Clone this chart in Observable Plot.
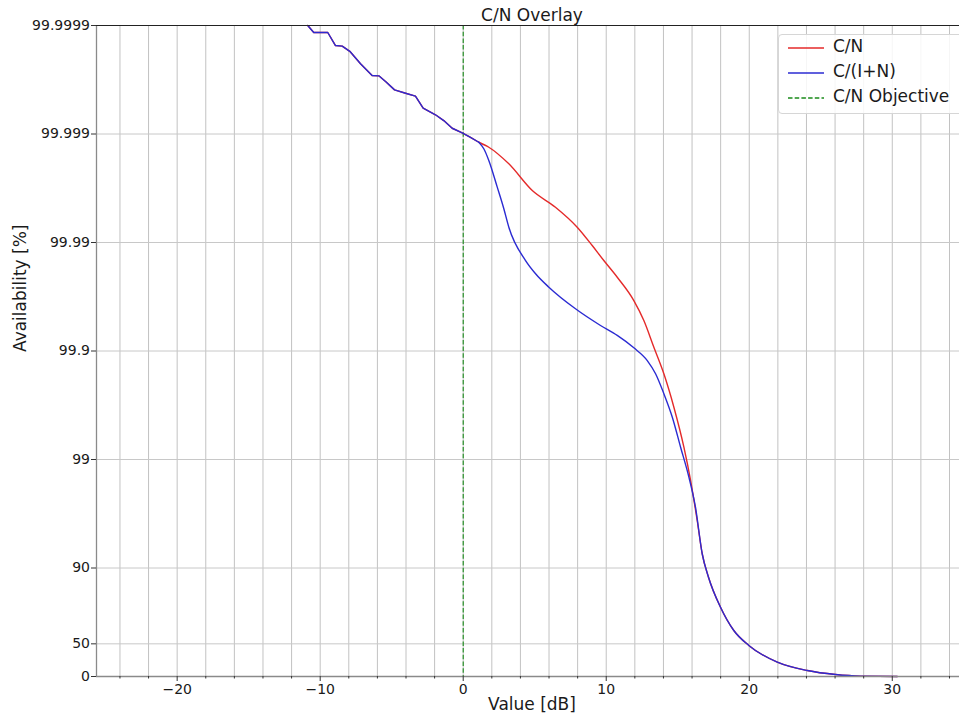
<!DOCTYPE html>
<html>
<head>
<meta charset="utf-8">
<script src="https://cdn.jsdelivr.net/npm/d3@7"></script>
<script src="https://cdn.jsdelivr.net/npm/@observablehq/plot@0.6"></script>
<style>
html, body { margin: 0; padding: 0; background: #fff; overflow: hidden; }
#wrap { position: relative; width: 959px; height: 719px; font-family: "DejaVu Sans", sans-serif; }
#legend { position: absolute; left: 778px; top: 34px; width: 200px; height: 80px;
  border: 1px solid #d6d6d6; border-radius: 4px; background: rgba(255,255,255,0.85); box-sizing: border-box; }
.item { position: absolute; left: 0; height: 25px; width: 200px; }
.item svg { position: absolute; left: 8px; top: 11px; }
.item span { position: absolute; left: 54px; top: 1px; font-size: 17px; color: #1a1a1a; white-space: nowrap; }
</style>
</head>
<body>
<div id="wrap"><div id="legend"></div></div>
<script>
// ---- data ----
const titleText = "C/N Overlay";
const xLabel = "Value [dB]";
const yLabel = "Availability [%]";

const cnDb = [-10.87,-10.45,-9.47,-8.93,-8.46,-7.93,-7.18,-6.37,-5.9,-5.43,-4.8,-4.03,-3.34,-2.8,-1.94,-1.36,-0.77,-0.07,0.51,1.09,
  1.79,3.19,4.83,6.45,7.97,9.02,9.83,10.77,11.93,12.63,13.33,14.03,14.73,15.43,15.9,16.36,16.71,17.15,17.99,18.92,19.97,21.96,24.06,26.03,27.78,30.35];
const cnAvail = [99.9999,99.999884,99.999884,99.999847,99.999845,99.999827,99.999775,99.999711,99.999709,99.999672,99.999608,99.999579,99.999552,99.999422,99.999335,99.999248,99.999115,99.999025,99.998928,99.998809,
  99.998676,99.998116,99.996681,99.995268,99.992772,99.98933,99.98534,99.97911,99.96572,99.94764,99.90774,99.8378,99.6704,99.2295,98.437,96.35,92.61,87.84,76.99,62.33,48.24,26.21,11.90,4.06,0.69,0];

const cinDb = [-10.87,-10.45,-9.47,-8.93,-8.46,-7.93,-7.18,-6.37,-5.9,-5.43,-4.8,-4.03,-3.34,-2.8,-1.94,-1.36,-0.77,-0.07,0.51,1.09,
  1.44,1.79,2.38,2.84,3.19,4.36,5.06,5.99,7.85,9.6,10.77,11.93,12.87,13.45,14.03,14.62,15.2,15.78,16.24,16.71,17.15,17.99,18.92,19.97,21.96,24.06,26.03,27.78,30.35];
const cinAvail = [99.9999,99.999884,99.999884,99.999847,99.999845,99.999827,99.999775,99.999711,99.999709,99.999672,99.999608,99.999579,99.999552,99.999422,99.999335,99.999248,99.999115,99.999025,99.998928,99.998809,
  99.998632,99.998246,99.99691,99.995113,99.992772,99.98534,99.9806,99.97418,99.95917,99.9418,99.9281,99.9065,99.8775,99.8378,99.7523,99.5926,99.2295,98.544,97.246,92.61,87.84,76.99,62.33,48.24,26.21,11.90,4.06,0.69,0];

// the curves are sampled coarsely (stepped) below this value and smoothly above it
const smoothFromDb = 1.09;
const objectiveDb = [0];

const seriesNames = ["C/N", "C/(I+N)", "C/N Objective"];
const seriesColors = ["#e42a2a", "#2b2bd2", "#1a8a1a"];
const seriesDash = ["", "", "4.5,2.2"];

const xTicks = [-20, -10, 0, 10, 20, 30];
const xMinorTicks = [-24, -22, -18, -16, -14, -12, -8, -6, -4, -2, 2, 4, 6, 8, 12, 14, 16, 18, 22, 24, 26, 28, 32, 34];
const yTickAvail = [0, 50, 90, 99, 99.9, 99.99, 99.999, 99.9999];
const yTickLabels = ["0", "50", "90", "99", "99.9", "99.99", "99.999", "99.9999"];
const xDomain = [-25.64, 34.7];

// ---- build ----
const toRows = (xs, as) => xs.map((x, i) => ({x, u: 100 - as[i]}));
const cnRows = toRows(cnDb, cnAvail);
const cinRows = toRows(cinDb, cinAvail);
const yTickRows = yTickAvail.map((a, i) => ({u: 100 - a, label: yTickLabels[i]}));
const yTickU = yTickRows.map(d => d.u);
const gridXVals = [...xTicks, ...xMinorTicks];
const fmtX = d => d < 0 ? "\u2212" + (-d) : String(d);
const stepPart = rows => rows.filter(d => d.x <= smoothFromDb);
const smoothPart = rows => rows.filter(d => d.x >= smoothFromDb);

const lineMarks = [[cnRows, seriesColors[0]], [cinRows, seriesColors[1]]].flatMap(([rows, color]) => [
  Plot.line(stepPart(rows), {x: "x", y: "u", stroke: color, strokeWidth: 1.4}),
  Plot.line(smoothPart(rows), {x: "x", y: "u", stroke: color, strokeWidth: 1.4, curve: "monotone-x"})
]);

const chart = Plot.plot({
  width: 959, height: 719,
  marginTop: 25, marginBottom: 43, marginLeft: 96, marginRight: 0,
  style: {fontFamily: "DejaVu Sans, sans-serif", fontSize: "14px", color: "#1a1a1a", background: "white", overflow: "hidden"},
  x: {domain: xDomain},
  y: {type: "log", domain: [100, 1e-4]},
  marks: [
    Plot.ruleX(gridXVals, {stroke: "#c2c2c2", strokeWidth: 1}),
    Plot.ruleY(yTickU, {stroke: "#c8c8c8", strokeWidth: 1}),
    Plot.ruleX(objectiveDb, {stroke: seriesColors[2], strokeWidth: 1.1, strokeDasharray: seriesDash[2]}),
    ...lineMarks,
    Plot.ruleX([xDomain[0]], {stroke: "#8a8a8a", strokeWidth: 1.3}),
    Plot.ruleY([100], {stroke: "#8a8a8a", strokeWidth: 1.3}),
    Plot.ruleY([1e-4], {stroke: "#222", strokeWidth: 1.2}),
    Plot.axisX(xTicks, {tickSize: 5, tickPadding: 3, tickFormat: fmtX, label: null, stroke: "#333", fontSize: 14}),
    Plot.axisX(xMinorTicks, {tickSize: 2.5, tickFormat: () => "", label: null, stroke: "#333"}),
    Plot.axisY(yTickU, {tickSize: 5, tickFormat: () => "", label: null, stroke: "#333"}),
    Plot.text(yTickRows, {y: "u", text: "label", frameAnchor: "left", dx: -6.5, textAnchor: "end", lineAnchor: "middle", fontSize: 14, fill: "#1a1a1a"}),
    Plot.text([titleText], {frameAnchor: "top", dx: 4, dy: -9.5, lineAnchor: "middle", fontSize: 17, fill: "#1a1a1a"}),
    Plot.text([xLabel], {frameAnchor: "bottom", dx: 4, dy: 28.5, lineAnchor: "middle", fontSize: 17, fill: "#1a1a1a"}),
    Plot.text([yLabel], {frameAnchor: "left", dx: -75.5, dy: 1, rotate: -90, lineAnchor: "middle", fontSize: 17, fill: "#1a1a1a"})
  ]
});
const wrap = document.getElementById("wrap");
wrap.insertBefore(chart, wrap.firstChild);

// legend
const legend = document.getElementById("legend");
seriesNames.forEach((name, i) => {
  const item = document.createElement("div");
  item.className = "item";
  item.style.top = (i * 25) + "px";
  item.innerHTML = `<svg width="38" height="4"><line x1="1" y1="2" x2="37" y2="2" stroke="${seriesColors[i]}" stroke-width="1.4" ${seriesDash[i] ? `stroke-dasharray="${seriesDash[i]}"` : ""}/></svg><span>${name.replace(/</g, "&lt;")}</span>`;
  legend.appendChild(item);
});
</script>
</body>
</html>
